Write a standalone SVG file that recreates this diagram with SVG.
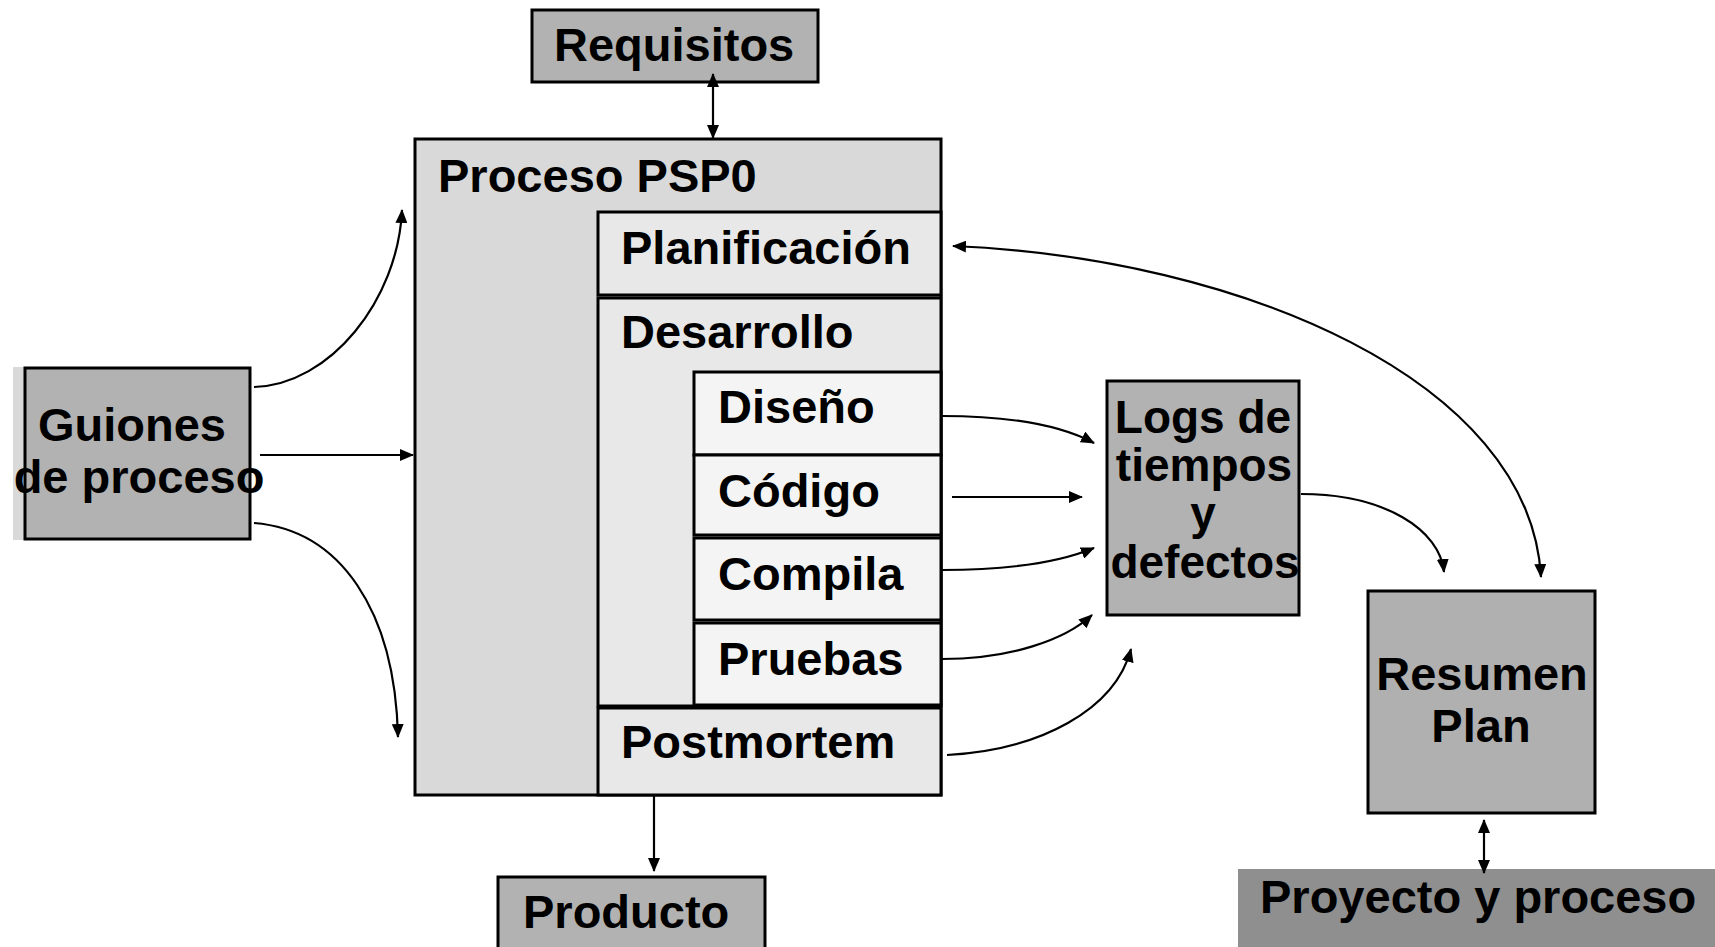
<svg xmlns="http://www.w3.org/2000/svg" width="1715" height="947" viewBox="0 0 1715 947">
  <style>
    .box { stroke: #000; stroke-width: 3; }
    .dark { fill: #b2b2b2; }
    .lbl { font-family: "Liberation Sans", Arial, sans-serif; font-weight: bold; font-size: 47px; fill: #000; }
    .mid { text-anchor: middle; }
    .tight { font-size: 46px; }
    .wire { fill: none; stroke: #000; stroke-width: 2.2; }
  </style>
  <defs>
    <marker id="head" viewBox="0 0 14 12" refX="13" refY="6" markerWidth="14" markerHeight="12" markerUnits="userSpaceOnUse" orient="auto-start-reverse">
      <path d="M0,0 L14,6 L0,12 Z" fill="#000"/>
    </marker>
  </defs>

  <rect width="1715" height="947" fill="#fff"/>

  <!-- input: process scripts -->
  <g id="guiones">
    <rect x="13" y="367" width="14" height="173" fill="#d9d9d9"/>
    <rect class="box dark" x="25" y="368" width="225" height="171"/>
    <text class="lbl mid" x="132" y="441">Guiones</text>
    <text class="lbl mid" x="139" y="493">de proceso</text>
  </g>

  <!-- input: requirements -->
  <g id="requisitos">
    <rect class="box dark" x="532" y="10" width="286" height="72"/>
    <text class="lbl" x="554" y="61">Requisitos</text>
  </g>

  <!-- PSP0 process with its phases -->
  <g id="proceso">
    <rect class="box" x="415" y="139" width="526" height="656" fill="#d9d9d9"/>
    <text class="lbl" x="438" y="192">Proceso PSP0</text>
  </g>
  <g id="planificacion">
    <rect class="box" x="598" y="212" width="343" height="83" fill="#e8e8e8"/>
    <text class="lbl" x="621" y="264">Planificación</text>
  </g>
  <g id="desarrollo">
    <rect class="box" x="598" y="298" width="343" height="408" fill="#e8e8e8"/>
    <text class="lbl" x="621" y="348">Desarrollo</text>
  </g>
  <g id="diseno">
    <rect class="box" x="694" y="372" width="247" height="83" fill="#f4f4f4"/>
    <text class="lbl" x="718" y="423">Diseño</text>
  </g>
  <g id="codigo">
    <rect class="box" x="694" y="455" width="247" height="80" fill="#f4f4f4"/>
    <text class="lbl" x="718" y="507">Código</text>
  </g>
  <g id="compila">
    <rect class="box" x="694" y="538" width="247" height="82" fill="#f4f4f4"/>
    <text class="lbl" x="718" y="590">Compila</text>
  </g>
  <g id="pruebas">
    <rect class="box" x="694" y="623" width="247" height="82" fill="#f4f4f4"/>
    <text class="lbl" x="718" y="675">Pruebas</text>
  </g>
  <g id="postmortem">
    <rect class="box" x="598" y="708" width="343" height="87" fill="#e8e8e8"/>
    <text class="lbl" x="621" y="758">Postmortem</text>
  </g>

  <!-- output: product -->
  <g id="producto">
    <rect class="box dark" x="498" y="877" width="267" height="80"/>
    <text class="lbl" x="523" y="928">Producto</text>
  </g>

  <!-- time and defect logs -->
  <g id="logs">
    <rect class="box dark" x="1107" y="381" width="192" height="234"/>
    <text class="lbl mid tight" x="1203" y="433">Logs de</text>
    <text class="lbl mid tight" x="1204" y="481">tiempos</text>
    <text class="lbl mid tight" x="1203" y="529">y</text>
    <text class="lbl mid tight" x="1205" y="578">defectos</text>
  </g>

  <!-- plan summary -->
  <g id="resumen">
    <rect class="box" x="1368" y="591" width="227" height="222" fill="#b0b0b0"/>
    <text class="lbl mid" x="1482" y="690">Resumen</text>
    <text class="lbl mid" x="1481" y="742">Plan</text>
  </g>

  <!-- project and process data -->
  <g id="proyecto">
    <rect x="1238" y="869" width="477" height="78" fill="#8f8f8f"/>
    <text class="lbl" x="1260" y="913">Proyecto y proceso</text>
  </g>

  <g id="connectors">
    <!-- requirements <-> process -->
    <path class="wire" d="M713,74 L713,138" marker-start="url(#head)" marker-end="url(#head)"/>
    <!-- scripts -> process -->
    <path class="wire" d="M254,387 C330,385 398,300 402,210" marker-end="url(#head)"/>
    <path class="wire" d="M260,455 L413,455" marker-end="url(#head)"/>
    <path class="wire" d="M254,523 C340,530 395,610 398,737" marker-end="url(#head)"/>
    <!-- process -> product -->
    <path class="wire" d="M654,795 L654,871" marker-end="url(#head)"/>
    <!-- phases -> logs -->
    <path class="wire" d="M942,416 C1010,416 1060,425 1094,443" marker-end="url(#head)"/>
    <path class="wire" d="M952,497 L1082,497" stroke="#555" marker-end="url(#head)"/>
    <path class="wire" d="M942,570 C1010,570 1060,562 1094,548" marker-end="url(#head)"/>
    <path class="wire" d="M942,659 C1010,659 1065,640 1092,615" marker-end="url(#head)"/>
    <path class="wire" d="M947,755 C1040,750 1115,710 1131,649" marker-end="url(#head)"/>
    <!-- logs -> summary -->
    <path class="wire" d="M1301,494 C1385,494 1440,530 1444,572" marker-end="url(#head)"/>
    <!-- planning <-> summary -->
    <path class="wire" d="M953,246 C1240,258 1530,380 1541,577" marker-start="url(#head)" marker-end="url(#head)"/>
    <!-- summary <-> project data -->
    <path class="wire" d="M1484,820 L1484,873" marker-start="url(#head)" marker-end="url(#head)"/>
  </g>
</svg>
